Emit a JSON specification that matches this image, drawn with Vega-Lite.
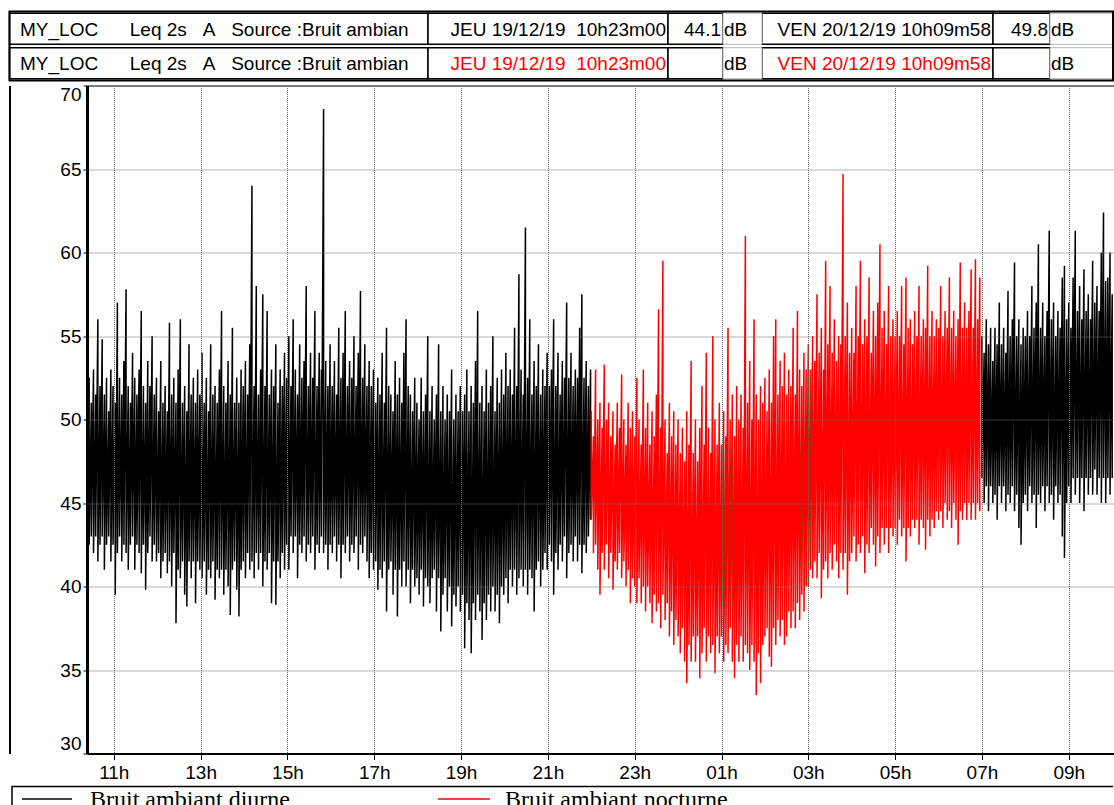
{
"$schema": "https://vega.github.io/schema/vega-lite/v6.json",
"padding": {"left": 8, "top": 10.5, "right": 0, "bottom": 0},
"background": "white",
"spacing": 3,
"config": {
 "view": {"stroke": null},
 "font": "Liberation Sans",
 "axis": {"labelFont": "Liberation Sans", "labelFontSize": 19, "labelColor": "#000", "domainColor": "#000", "tickColor": "#000", "gridColor": "#6a6a6a", "gridDash": [1, 1], "gridWidth": 1},
 "text": {"font": "Liberation Sans", "fontSize": 19}
},
"resolve": {"scale": {"x": "independent", "y": "independent", "color": "shared"}},
"datasets": {
"hdr": [
 {"kind": "frame", "c0": 0, "c1": 7},
 {"row": 1, "kind": "label", "c0": 0, "c1": 1, "text": "MY_LOC\u00a0\u00a0\u00a0\u00a0\u00a0\u00a0Leq 2s\u00a0\u00a0\u00a0A\u00a0\u00a0\u00a0Source :Bruit ambian"},
 {"row": 1, "kind": "date", "c0": 1, "c1": 2, "text": "JEU 19/12/19\u00a0\u00a010h23m00", "serie": "Bruit ambiant diurne"},
 {"row": 1, "kind": "value", "c0": 2, "c1": 3, "text": "44.1"},
 {"row": 1, "kind": "unit", "c0": 3, "c1": 4, "text": "dB"},
 {"row": 1, "kind": "date", "c0": 4, "c1": 5, "text": "VEN 20/12/19 10h09m58", "serie": "Bruit ambiant diurne"},
 {"row": 1, "kind": "value", "c0": 5, "c1": 6, "text": "49.8"},
 {"row": 1, "kind": "unit", "c0": 6, "c1": 7, "text": "dB"},
 {"row": 2, "kind": "label", "c0": 0, "c1": 1, "text": "MY_LOC\u00a0\u00a0\u00a0\u00a0\u00a0\u00a0Leq 2s\u00a0\u00a0\u00a0A\u00a0\u00a0\u00a0Source :Bruit ambian"},
 {"row": 2, "kind": "date", "c0": 1, "c1": 2, "text": "JEU 19/12/19\u00a0\u00a010h23m00", "serie": "Bruit ambiant nocturne"},
 {"row": 2, "kind": "value", "c0": 2, "c1": 3, "text": ""},
 {"row": 2, "kind": "unit", "c0": 3, "c1": 4, "text": "dB"},
 {"row": 2, "kind": "date", "c0": 4, "c1": 5, "text": "VEN 20/12/19 10h09m58", "serie": "Bruit ambiant nocturne"},
 {"row": 2, "kind": "value", "c0": 5, "c1": 6, "text": ""},
 {"row": 2, "kind": "unit", "c0": 6, "c1": 7, "text": "dB"}
],
"leg": [
 {"kind": "frame", "c0": 0, "c1": 7},
 {"kind": "entry", "label": "Bruit ambiant diurne", "c0": 1, "c1": 2, "ct": 3},
 {"kind": "entry", "label": "Bruit ambiant nocturne", "c0": 4, "c1": 5, "ct": 6}
],
"d1": [
{"t":623,"a":47,"b":44},{"t":626,"a":52.5,"b":42.5},{"t":629,"a":51,"b":43},{"t":632,"a":53,"b":42},{"t":635,"a":51.5,"b":43},{"t":638,"a":56,"b":41.5},{"t":641,"a":52,"b":42.5},{"t":644,"a":54.8,"b":43},{"t":647,"a":51.5,"b":41},{"t":650,"a":52.5,"b":42.5},{"t":653,"a":50.5,"b":43},{"t":656,"a":53,"b":41.5},
{"t":659,"a":52,"b":42.5},{"t":662,"a":51,"b":39.5},{"t":665,"a":57,"b":42},{"t":668,"a":52.5,"b":43},{"t":671,"a":51.5,"b":41.5},{"t":674,"a":53.5,"b":42.5},{"t":677,"a":57.8,"b":42},{"t":680,"a":52,"b":41},{"t":683,"a":51,"b":42.5},{"t":686,"a":54,"b":43},{"t":689,"a":52.5,"b":41},{"t":692,"a":51.5,"b":42.5},{"t":695,"a":53,"b":42},{"t":698,"a":56.5,"b":40.8},{"t":701,"a":52,"b":42.5},{"t":704,"a":51,"b":39.8},{"t":707,"a":53.5,"b":42},{"t":710,"a":52,"b":43},{"t":713,"a":55,"b":41.5},{"t":716,"a":51.5,"b":42.5},
{"t":719,"a":52.5,"b":41.5},{"t":722,"a":50.5,"b":42},{"t":725,"a":53.5,"b":40.5},{"t":728,"a":51,"b":41.5},{"t":731,"a":52,"b":42},{"t":734,"a":50.5,"b":40.8},{"t":737,"a":55.8,"b":41.5},{"t":740,"a":51.5,"b":40},{"t":743,"a":52.5,"b":42},{"t":746,"a":51,"b":37.8},{"t":749,"a":53,"b":41},{"t":752,"a":56,"b":40.5},{"t":755,"a":51,"b":41.5},{"t":758,"a":52,"b":39.5},{"t":761,"a":50.5,"b":38.8},{"t":764,"a":54.5,"b":41.5},{"t":767,"a":51.5,"b":40.5},{"t":770,"a":52.5,"b":41.5},{"t":773,"a":51,"b":39},{"t":776,"a":53,"b":41.5},
{"t":779,"a":51.5,"b":41},{"t":782,"a":54,"b":40.5},{"t":785,"a":51,"b":41.5},{"t":788,"a":52.5,"b":39.5},{"t":791,"a":50.5,"b":41},{"t":794,"a":54.5,"b":40.5},{"t":797,"a":51.5,"b":41.5},{"t":800,"a":52,"b":39.2},{"t":803,"a":51,"b":41},{"t":806,"a":53,"b":40.5},{"t":809,"a":56.5,"b":41},{"t":812,"a":52,"b":39.5},{"t":815,"a":51,"b":41},{"t":818,"a":53.5,"b":40},{"t":821,"a":51.5,"b":38.3},{"t":824,"a":55.5,"b":41},{"t":827,"a":51,"b":41.5},{"t":830,"a":52.5,"b":39.8},{"t":833,"a":51,"b":38.2},{"t":836,"a":53,"b":41},
{"t":839,"a":52,"b":41.5},{"t":842,"a":53.5,"b":40.5},{"t":845,"a":51.5,"b":42},{"t":848,"a":54.5,"b":41},{"t":851,"a":64,"b":41.5},{"t":854,"a":52,"b":40.5},{"t":857,"a":58,"b":42},{"t":860,"a":51.5,"b":41},{"t":863,"a":53,"b":42},{"t":866,"a":57.5,"b":40},{"t":869,"a":52,"b":41.5},{"t":872,"a":56.5,"b":41},{"t":875,"a":51.5,"b":42},{"t":878,"a":53,"b":39},{"t":881,"a":52,"b":41.5},{"t":884,"a":54.5,"b":38.9},{"t":887,"a":51,"b":41.5},{"t":890,"a":53,"b":40.5},{"t":893,"a":52,"b":42},{"t":896,"a":54,"b":41},
{"t":899,"a":52.5,"b":42.5},{"t":902,"a":55,"b":41},{"t":905,"a":52,"b":43},{"t":908,"a":56,"b":42},{"t":911,"a":53,"b":43},{"t":914,"a":51.5,"b":40.5},{"t":917,"a":54.5,"b":42.5},{"t":920,"a":52.5,"b":42},{"t":923,"a":53.5,"b":43},{"t":926,"a":58,"b":41.5},{"t":929,"a":52,"b":42.5},{"t":932,"a":54,"b":42},{"t":935,"a":52.5,"b":43},{"t":938,"a":56.5,"b":41},{"t":941,"a":52,"b":42.5},{"t":944,"a":54,"b":42},{"t":947,"a":53,"b":43},{"t":950,"a":68.6,"b":42},{"t":953,"a":53.5,"b":42.5},{"t":956,"a":52,"b":41},
{"t":959,"a":54.5,"b":42.5},{"t":962,"a":52,"b":42},{"t":965,"a":53.5,"b":43},{"t":968,"a":51.5,"b":41.5},{"t":971,"a":55.5,"b":42.5},{"t":974,"a":52.5,"b":40.5},{"t":977,"a":54,"b":42.5},{"t":980,"a":56.5,"b":42},{"t":983,"a":52,"b":43},{"t":986,"a":53.5,"b":41.5},{"t":989,"a":52.5,"b":42.5},{"t":992,"a":55,"b":42},{"t":995,"a":52,"b":43},{"t":998,"a":54,"b":41},{"t":1001,"a":57.7,"b":42.5},{"t":1004,"a":52.5,"b":42},{"t":1007,"a":54.5,"b":43},{"t":1010,"a":52,"b":41.5},{"t":1013,"a":53.5,"b":40.5},{"t":1016,"a":52,"b":42},
{"t":1019,"a":53,"b":41},{"t":1022,"a":51,"b":41.5},{"t":1025,"a":52.5,"b":39.8},{"t":1028,"a":51.5,"b":41},{"t":1031,"a":54,"b":40.5},{"t":1034,"a":51,"b":41.5},{"t":1037,"a":55.5,"b":38.5},{"t":1040,"a":52,"b":41},{"t":1043,"a":51.5,"b":41.5},{"t":1046,"a":50.5,"b":39.5},{"t":1049,"a":53.5,"b":41},{"t":1052,"a":51.5,"b":38.2},{"t":1055,"a":52.5,"b":41},{"t":1058,"a":51,"b":40},{"t":1061,"a":54,"b":41.5},{"t":1064,"a":56,"b":40},{"t":1067,"a":52,"b":41},{"t":1070,"a":51.5,"b":39},{"t":1073,"a":50.5,"b":41},{"t":1076,"a":52.5,"b":40},
{"t":1079,"a":51,"b":40.5},{"t":1082,"a":50,"b":39.5},{"t":1085,"a":52.5,"b":41},{"t":1088,"a":50.5,"b":38.8},{"t":1091,"a":51.5,"b":40.5},{"t":1094,"a":55,"b":40},{"t":1097,"a":50.5,"b":39},{"t":1100,"a":52,"b":40.5},{"t":1103,"a":50,"b":41},{"t":1106,"a":51.5,"b":38.5},{"t":1109,"a":54.5,"b":40.5},{"t":1112,"a":50.5,"b":37.3},{"t":1115,"a":52,"b":39.5},{"t":1118,"a":50,"b":40.5},{"t":1121,"a":51.5,"b":38.5},{"t":1124,"a":50.5,"b":40},{"t":1127,"a":53,"b":37.6},{"t":1130,"a":50,"b":39.5},{"t":1133,"a":51.5,"b":38.8},{"t":1136,"a":50.5,"b":40},
{"t":1139,"a":52,"b":38.5},{"t":1142,"a":50.5,"b":39.5},{"t":1145,"a":51.5,"b":36.3},{"t":1148,"a":53,"b":39},{"t":1151,"a":50.5,"b":38},{"t":1154,"a":52,"b":36},{"t":1157,"a":51,"b":39},{"t":1160,"a":53.5,"b":38},{"t":1163,"a":56.5,"b":39.5},{"t":1166,"a":51,"b":38.5},{"t":1169,"a":52,"b":36.8},{"t":1172,"a":50.5,"b":39},{"t":1175,"a":53,"b":38},{"t":1178,"a":51,"b":39.5},{"t":1181,"a":52,"b":38.5},{"t":1184,"a":55,"b":40},{"t":1187,"a":50.5,"b":38.5},{"t":1190,"a":52.5,"b":39.5},{"t":1193,"a":51,"b":37.8},{"t":1196,"a":53,"b":40},
{"t":1199,"a":51.5,"b":39.5},{"t":1202,"a":54,"b":40.5},{"t":1205,"a":52,"b":39},{"t":1208,"a":53,"b":41},{"t":1211,"a":51.5,"b":40},{"t":1214,"a":55.5,"b":41},{"t":1217,"a":52,"b":39.5},{"t":1220,"a":58.7,"b":40.5},{"t":1223,"a":53,"b":41},{"t":1226,"a":51.5,"b":40},{"t":1229,"a":61.5,"b":41},{"t":1232,"a":52.5,"b":39.5},{"t":1235,"a":56,"b":41},{"t":1238,"a":51.5,"b":40.5},{"t":1241,"a":53.5,"b":38.5},{"t":1244,"a":52,"b":41},{"t":1247,"a":54.5,"b":41.5},{"t":1250,"a":51.5,"b":40},{"t":1253,"a":53,"b":41},{"t":1256,"a":52,"b":42},
{"t":1259,"a":54,"b":41},{"t":1262,"a":52,"b":42.5},{"t":1265,"a":53,"b":41.5},{"t":1268,"a":56,"b":39.5},{"t":1271,"a":52,"b":42},{"t":1274,"a":54,"b":41},{"t":1277,"a":51.5,"b":42.5},{"t":1280,"a":53.5,"b":41.5},{"t":1283,"a":52.5,"b":43},{"t":1286,"a":57,"b":40.5},{"t":1289,"a":52.5,"b":42},{"t":1292,"a":54,"b":42.5},{"t":1295,"a":52,"b":41.5},{"t":1298,"a":53,"b":43},{"t":1301,"a":52.5,"b":41.5},{"t":1304,"a":55.5,"b":42.5},{"t":1307,"a":57.5,"b":40.8},{"t":1310,"a":52.5,"b":42.5},{"t":1313,"a":53.5,"b":42},{"t":1316,"a":52,"b":43},{"t":1319,"a":53,"b":44}
],
"n": [
{"t":1320,"a":50.5,"b":44},{"t":1323,"a":49,"b":42},{"t":1326,"a":53,"b":42.5},{"t":1329,"a":50,"b":41},{"t":1332,"a":51,"b":39.5},{"t":1335,"a":49.5,"b":42},{"t":1338,"a":53.3,"b":41},{"t":1341,"a":50,"b":42.5},{"t":1344,"a":51,"b":40.5},{"t":1347,"a":49,"b":42},{"t":1350,"a":50.5,"b":39.8},{"t":1353,"a":48.5,"b":41.5},{"t":1356,"a":51,"b":41},{"t":1359,"a":49.5,"b":42},{"t":1362,"a":52.7,"b":40.5},{"t":1365,"a":50,"b":41.5},{"t":1368,"a":48.5,"b":40},{"t":1371,"a":51,"b":41},{"t":1374,"a":49.5,"b":39},{"t":1377,"a":50.5,"b":40.5},
{"t":1380,"a":49,"b":40},{"t":1383,"a":52.5,"b":39},{"t":1386,"a":50,"b":40.5},{"t":1389,"a":48.5,"b":39},{"t":1392,"a":53,"b":40},{"t":1395,"a":49.5,"b":38.5},{"t":1398,"a":51,"b":40},{"t":1401,"a":48.5,"b":39},{"t":1404,"a":50.5,"b":37.8},{"t":1407,"a":49,"b":39.5},{"t":1410,"a":51.5,"b":38.5},{"t":1413,"a":56.6,"b":39},{"t":1416,"a":49.5,"b":37.5},{"t":1419,"a":59.5,"b":39.5},{"t":1422,"a":50,"b":38},{"t":1425,"a":48,"b":39},{"t":1428,"a":51,"b":37},{"t":1431,"a":49,"b":38.5},{"t":1434,"a":50.5,"b":36.5},{"t":1437,"a":48.5,"b":38},
{"t":1440,"a":50,"b":37},{"t":1443,"a":48,"b":36},{"t":1446,"a":49.5,"b":37.5},{"t":1449,"a":47.5,"b":35.5},{"t":1452,"a":50.5,"b":34.2},{"t":1455,"a":48.5,"b":36.5},{"t":1458,"a":53.5,"b":35.5},{"t":1461,"a":48,"b":37},{"t":1464,"a":50,"b":35.5},{"t":1467,"a":47.5,"b":37},{"t":1470,"a":49.5,"b":34.5},{"t":1473,"a":52,"b":36},{"t":1476,"a":48.5,"b":37.5},{"t":1479,"a":54,"b":35.5},{"t":1482,"a":49.5,"b":37},{"t":1485,"a":48,"b":36},{"t":1488,"a":55,"b":36.5},{"t":1491,"a":50,"b":34.8},{"t":1494,"a":48.5,"b":37},{"t":1497,"a":51,"b":36},
{"t":1500,"a":48.5,"b":37},{"t":1503,"a":50.5,"b":35.5},{"t":1506,"a":49,"b":36.5},{"t":1509,"a":55.5,"b":36},{"t":1512,"a":50,"b":37.5},{"t":1515,"a":51.5,"b":35.5},{"t":1518,"a":49,"b":34.5},{"t":1521,"a":52,"b":36.5},{"t":1524,"a":50,"b":35.5},{"t":1527,"a":51.5,"b":37},{"t":1530,"a":49.5,"b":35.5},{"t":1533,"a":61,"b":36.5},{"t":1536,"a":51,"b":36},{"t":1539,"a":53.5,"b":35},{"t":1542,"a":50,"b":36.5},{"t":1545,"a":56,"b":35.5},{"t":1548,"a":51.5,"b":33.5},{"t":1551,"a":50,"b":36},{"t":1554,"a":52,"b":34.2},{"t":1557,"a":51,"b":36.5},
{"t":1560,"a":52.5,"b":37},{"t":1563,"a":50.5,"b":37.5},{"t":1566,"a":53,"b":35.8},{"t":1569,"a":51,"b":35.2},{"t":1572,"a":55,"b":37.5},{"t":1575,"a":56,"b":36.5},{"t":1578,"a":51.5,"b":38},{"t":1581,"a":53.5,"b":37},{"t":1584,"a":52,"b":38},{"t":1587,"a":54,"b":36.5},{"t":1590,"a":51.5,"b":37},{"t":1593,"a":53,"b":38.5},{"t":1596,"a":52,"b":37.5},{"t":1599,"a":55.5,"b":38.5},{"t":1602,"a":51.5,"b":37.5},{"t":1605,"a":56.5,"b":39},{"t":1608,"a":53,"b":38},{"t":1611,"a":52,"b":39.5},{"t":1614,"a":54,"b":38.5},{"t":1617,"a":53,"b":40},
{"t":1620,"a":54.5,"b":40},{"t":1623,"a":53,"b":41},{"t":1626,"a":55,"b":40.5},{"t":1629,"a":53.5,"b":41.5},{"t":1632,"a":57.5,"b":40.5},{"t":1635,"a":54,"b":42},{"t":1638,"a":55.5,"b":39.3},{"t":1641,"a":53,"b":41},{"t":1644,"a":59.5,"b":41.5},{"t":1647,"a":54.5,"b":40.5},{"t":1650,"a":58,"b":42},{"t":1653,"a":54,"b":41},{"t":1656,"a":56,"b":42.5},{"t":1659,"a":53.5,"b":41.5},{"t":1662,"a":55,"b":40.5},{"t":1665,"a":54.5,"b":42},{"t":1668,"a":64.7,"b":41},{"t":1671,"a":55,"b":42},{"t":1674,"a":57,"b":39.5},{"t":1677,"a":54,"b":41.5},
{"t":1680,"a":55.5,"b":42},{"t":1683,"a":54,"b":43},{"t":1686,"a":58,"b":41.5},{"t":1689,"a":55,"b":42.5},{"t":1692,"a":59.5,"b":42},{"t":1695,"a":54.5,"b":43},{"t":1698,"a":56,"b":40.8},{"t":1701,"a":55,"b":42.5},{"t":1704,"a":58.5,"b":42},{"t":1707,"a":54,"b":43.5},{"t":1710,"a":56.5,"b":42.5},{"t":1713,"a":55,"b":41.2},{"t":1716,"a":57,"b":43},{"t":1719,"a":60.5,"b":42},{"t":1722,"a":55.5,"b":43.5},{"t":1725,"a":56.5,"b":42.5},{"t":1728,"a":54.5,"b":43.5},{"t":1731,"a":58,"b":42},{"t":1734,"a":55,"b":43.5},{"t":1737,"a":56,"b":43},
{"t":1740,"a":55,"b":43.5},{"t":1743,"a":56.5,"b":42.5},{"t":1746,"a":55,"b":44},{"t":1749,"a":58,"b":43},{"t":1752,"a":54.5,"b":43.5},{"t":1755,"a":58.5,"b":41.5},{"t":1758,"a":55.5,"b":43.5},{"t":1761,"a":56,"b":43},{"t":1764,"a":54.5,"b":44},{"t":1767,"a":56.5,"b":43.5},{"t":1770,"a":55,"b":44},{"t":1773,"a":58,"b":42.5},{"t":1776,"a":55,"b":44},{"t":1779,"a":56,"b":43.5},{"t":1782,"a":55.5,"b":42.2},{"t":1785,"a":59.2,"b":44},{"t":1788,"a":55,"b":43},{"t":1791,"a":56.5,"b":44},{"t":1794,"a":55,"b":43.5},{"t":1797,"a":56,"b":44.5},
{"t":1800,"a":55.5,"b":44},{"t":1803,"a":58,"b":44.5},{"t":1806,"a":55,"b":43.5},{"t":1809,"a":56.5,"b":45},{"t":1812,"a":55.5,"b":44},{"t":1815,"a":58.5,"b":44.5},{"t":1818,"a":55.5,"b":43.5},{"t":1821,"a":56.5,"b":45},{"t":1824,"a":55,"b":44},{"t":1827,"a":56,"b":42.5},{"t":1830,"a":59.4,"b":44.5},{"t":1833,"a":55.5,"b":44},{"t":1836,"a":57,"b":45},{"t":1839,"a":55.5,"b":44},{"t":1842,"a":56.5,"b":45},{"t":1845,"a":59,"b":44},{"t":1848,"a":55.5,"b":45},{"t":1851,"a":59.6,"b":44},{"t":1854,"a":56,"b":45},{"t":1857,"a":58.5,"b":44.5}
],
"d2": [
{"t":1860,"a":55,"b":46.5},{"t":1863,"a":54,"b":45},{"t":1866,"a":56,"b":46},{"t":1869,"a":54.5,"b":44.5},{"t":1872,"a":55.5,"b":46},{"t":1875,"a":53.5,"b":45},{"t":1878,"a":55.5,"b":45.5},{"t":1881,"a":54.5,"b":44},{"t":1884,"a":57,"b":46},{"t":1887,"a":54.5,"b":45},{"t":1890,"a":55.5,"b":46},{"t":1893,"a":54,"b":44.5},{"t":1896,"a":57.7,"b":45.5},{"t":1899,"a":55,"b":45},{"t":1902,"a":56,"b":46},{"t":1905,"a":59.4,"b":44.5},{"t":1908,"a":55,"b":45.5},{"t":1911,"a":56,"b":43.5},{"t":1914,"a":54.5,"b":42.5},{"t":1917,"a":55.5,"b":45},
{"t":1920,"a":55,"b":45.5},{"t":1923,"a":56.5,"b":44.5},{"t":1926,"a":55,"b":46},{"t":1929,"a":58,"b":45},{"t":1932,"a":55.5,"b":45.5},{"t":1935,"a":57,"b":43.5},{"t":1938,"a":60.5,"b":45.5},{"t":1941,"a":55.5,"b":45},{"t":1944,"a":57,"b":46},{"t":1947,"a":55,"b":44.5},{"t":1950,"a":56.5,"b":46},{"t":1953,"a":61.3,"b":45},{"t":1956,"a":56,"b":45.5},{"t":1959,"a":57,"b":44},{"t":1962,"a":55,"b":46},{"t":1965,"a":56.5,"b":45},{"t":1968,"a":55.5,"b":45.5},{"t":1971,"a":58.5,"b":43},{"t":1974,"a":59.2,"b":41.7},{"t":1977,"a":56,"b":45},
{"t":1980,"a":57,"b":46},{"t":1983,"a":55.5,"b":45},{"t":1986,"a":58.5,"b":46.5},{"t":1989,"a":61.3,"b":45.5},{"t":1992,"a":56.5,"b":46.5},{"t":1995,"a":58,"b":45},{"t":1998,"a":56,"b":46.5},{"t":2001,"a":59,"b":44.5},{"t":2004,"a":56.5,"b":46.5},{"t":2007,"a":57.5,"b":45.5},{"t":2010,"a":56,"b":46.5},{"t":2013,"a":59.5,"b":45.5},{"t":2016,"a":57,"b":47},{"t":2019,"a":58,"b":45.5},{"t":2022,"a":56.5,"b":46.5},{"t":2025,"a":60,"b":45},{"t":2028,"a":62.4,"b":46.5},{"t":2031,"a":58.3,"b":45},{"t":2034,"a":58.5,"b":46.5},{"t":2037,"a":60,"b":45.5},{"t":2040,"a":57.5,"b":46.5}
]
},
"vconcat": [
{
 "width": 1027, "height": 69,
 "data": {"name": "hdr"},
 "encoding": {
  "x": {"field": "c0", "type": "quantitative", "axis": null, "scale": {"domain": [0,1,2,3,4,5,6,7], "range": [-77.5,341,581,636,675,906,963,1026], "zero": false, "nice": false}}
 },
 "layer": [
  {"transform": [{"filter": "datum.kind == 'label' || datum.kind == 'date' || datum.kind == 'value'"}],
   "mark": {"type": "rect", "fill": "white", "stroke": "black", "strokeWidth": 1.5},
   "encoding": {"x2": {"field": "c1"}, "y": {"field": "row", "type": "ordinal", "axis": null, "scale": {"paddingInner": 0.1, "paddingOuter": 0.05}}}},
  {"transform": [{"filter": "datum.kind == 'unit'"}],
   "mark": {"type": "rect", "fill": "white", "stroke": "#b4b4b4", "strokeWidth": 1},
   "encoding": {"x2": {"field": "c1"}, "y": {"field": "row", "type": "ordinal", "axis": null}}},
  {"transform": [{"filter": "datum.kind == 'label'"}],
   "mark": {"type": "text", "align": "left", "baseline": "middle", "dx": 10.5, "dy": 1, "fontSize": 19, "color": "black"},
   "encoding": {"y": {"field": "row", "type": "ordinal", "axis": null}, "text": {"field": "text"}}},
  {"transform": [{"filter": "datum.kind == 'unit'"}],
   "mark": {"type": "text", "align": "left", "baseline": "middle", "dx": 1, "dy": 1, "fontSize": 19, "color": "black"},
   "encoding": {"y": {"field": "row", "type": "ordinal", "axis": null}, "text": {"field": "text"}}},
  {"transform": [{"filter": "datum.kind == 'value'"}],
   "mark": {"type": "text", "align": "right", "baseline": "middle", "dx": -2, "dy": 1, "fontSize": 19, "color": "black"},
   "encoding": {"x": {"field": "c1", "type": "quantitative"}, "y": {"field": "row", "type": "ordinal", "axis": null}, "text": {"field": "text"}}},
  {"transform": [{"filter": "datum.kind == 'date'"}],
   "mark": {"type": "text", "align": "right", "baseline": "middle", "dx": -2, "dy": 1, "fontSize": 19},
   "encoding": {"x": {"field": "c1", "type": "quantitative"}, "y": {"field": "row", "type": "ordinal", "axis": null}, "text": {"field": "text"},
    "color": {"field": "serie", "type": "nominal", "legend": null, "scale": {"domain": ["Bruit ambiant diurne", "Bruit ambiant nocturne"], "range": ["#000000", "#ff0000"]}}}},
  {"transform": [{"filter": "datum.kind == 'frame'"}],
   "mark": {"type": "rect", "filled": false, "stroke": "black", "strokeWidth": 2},
   "encoding": {"x2": {"field": "c1"}}}
 ]
},
{
 "width": 1027, "height": 668,
 "resolve": {"axis": {"x": "independent", "y": "independent"}},
 "layer": [
  {"data": {"name": "d1"}, "transform": [{"fold": ["a", "b"], "as": ["k", "v"]}],
   "mark": {"type": "line", "strokeWidth": 1.5, "clip": true},
   "encoding": {
    "x": {"field": "t", "type": "quantitative", "scale": {"domain": [623, 2042.5], "zero": false, "nice": false},
     "axis": {"orient": "bottom", "title": null, "values": [660,780,900,1020,1140,1260,1380,1500,1620,1740,1860,1980], "labelExpr": "(floor(datum.value/60)%24<10?'0':'')+(floor(datum.value/60)%24)+'h'", "tickSize": 6, "labelPadding": 4, "domainWidth": 2, "grid": true, "labelFlush": false, "zindex": 1}},
    "y": {"field": "v", "type": "quantitative", "scale": {"domain": [30, 70], "zero": false, "nice": false},
     "axis": {"orient": "left", "title": null, "values": [30,35,40,45,50,55,60,65,70], "tickSize": 4, "labelPadding": 2, "domainWidth": 3, "grid": true, "labelFlush": true, "zindex": 1}},
    "color": {"datum": "Bruit ambiant diurne", "type": "nominal", "legend": null, "scale": {"domain": ["Bruit ambiant diurne", "Bruit ambiant nocturne"], "range": ["#000000", "#ff0000"]}}
   }},
  {"data": {"name": "n"}, "transform": [{"fold": ["a", "b"], "as": ["k", "v"]}],
   "mark": {"type": "line", "strokeWidth": 1.5, "clip": true},
   "encoding": {
    "x": {"field": "t", "type": "quantitative", "axis": {"orient": "top", "title": null, "labels": false, "ticks": false, "grid": false, "domainWidth": 1}},
    "y": {"field": "v", "type": "quantitative", "axis": {"orient": "left", "title": null, "labels": false, "ticks": false, "grid": false, "domainWidth": 2, "offset": 77.5}},
    "color": {"datum": "Bruit ambiant nocturne", "type": "nominal", "legend": null}
   }},
  {"data": {"name": "d2"}, "transform": [{"fold": ["a", "b"], "as": ["k", "v"]}],
   "mark": {"type": "line", "strokeWidth": 1.5, "clip": true},
   "encoding": {
    "x": {"field": "t", "type": "quantitative", "axis": null},
    "y": {"field": "v", "type": "quantitative", "axis": null},
    "color": {"datum": "Bruit ambiant diurne", "type": "nominal", "legend": null}
   }}
 ]
},
{
 "width": 1027, "height": 19,
 "data": {"name": "leg"},
 "encoding": {
  "x": {"field": "c0", "type": "quantitative", "axis": null, "scale": {"domain": [0,1,2,3,4,5,6,7], "range": [-75,-65,-15,3,351,403,418,1026], "zero": false, "nice": false}}
 },
 "layer": [
  {"transform": [{"filter": "datum.kind == 'frame'"}],
   "mark": {"type": "rect", "filled": false, "stroke": "black", "strokeWidth": 1.5, "strokeDash": [1101, 1120, 40]},
   "encoding": {"x2": {"field": "c1"}}},
  {"transform": [{"filter": "datum.kind == 'entry'"}],
   "mark": {"type": "rule", "strokeWidth": 1.5, "yOffset": 3},
   "encoding": {"x2": {"field": "c1"},
    "color": {"field": "label", "type": "nominal", "legend": null, "scale": {"domain": ["Bruit ambiant diurne", "Bruit ambiant nocturne"], "range": ["#000000", "#ff0000"]}}}},
  {"transform": [{"filter": "datum.kind == 'entry'"}],
   "mark": {"type": "text", "align": "left", "baseline": "alphabetic", "dy": 10.5, "clip": true, "font": "Liberation Serif", "fontSize": 24, "color": "black"},
   "encoding": {"x": {"field": "ct", "type": "quantitative"}, "text": {"field": "label"}}}
 ]
}
]
}
